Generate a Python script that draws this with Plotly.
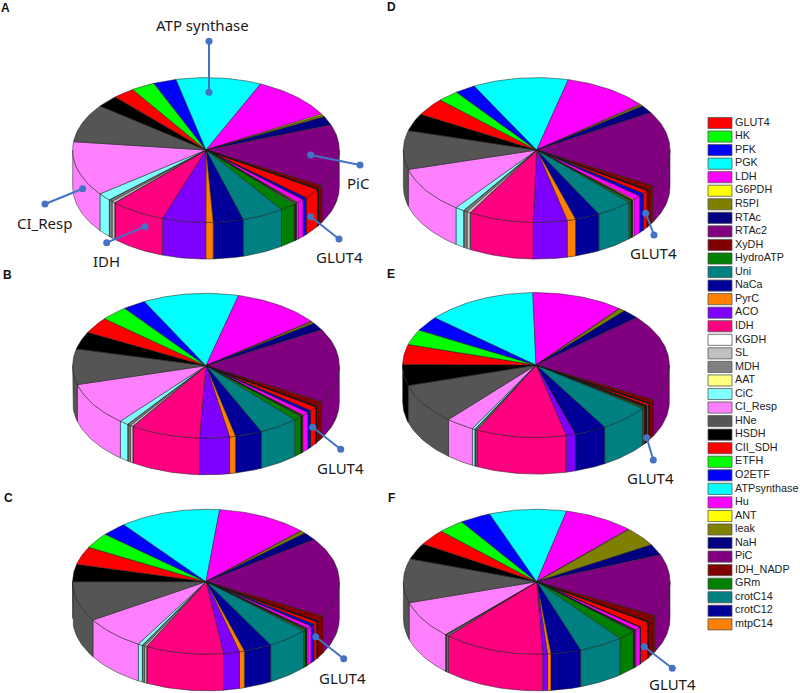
import math
import plotly.graph_objects as go

names = ["GLUT4","HK","PFK","PGK","LDH","G6PDH","R5PI","RTAc","RTAc2","XyDH","HydroATP","Uni","NaCa","PyrC","ACO","IDH","KGDH","SL","MDH","AAT","CiC","CI_Resp","HNe","HSDH","CII_SDH","ETFH","O2ETF","ATPsynthase","Hu","ANT","leak","NaH","PiC","IDH_NADP","GRm","crotC14","crotC12","mtpC14"]
colors = ["#ff0000","#00ff00","#0000ff","#00ffff","#ff00ff","#ffff00","#808000","#000080","#800080","#800000","#008000","#008080","#000099","#ff8000","#8000ff","#ff0080","#ffffff","#c0c0c0","#808080","#ffff80","#80ffff","#ff80ff","#555555","#000000","#ff0000","#00ff00","#0000ff","#00ffff","#ff00ff","#ffff00","#808000","#000080","#800080","#800000","#008000","#008080","#000099","#ff8000"]

panel_a = [8.4,.1,1.7,.1,3.1,.6,.4,.4,.4,.4,6.9,18.3,13.1,3.2,19,24,.1,1.6,1.6,.1,6.2,43.9,30.8,9.7,9.5,10.4,10,37.2,36,1,1.5,7,49.9,3.0,.1,.1,.1,.1]
panel_b = [3.9,.1,1.6,.1,2.8,.5,.3,.3,.3,.3,3.5,17.2,11.7,2.6,13,30.4,.1,1.3,1.3,.1,4,34.9,28.6,14,13,12,10,41.7,38,.4,1.6,6,59.7,4.4,.1,.1,.1,.1]
panel_c = [2.5,.1,1.7,.1,2.3,.5,.3,.3,.3,.3,1.0,18,12.3,2.2,7,33.9,.1,1,1,.1,2,27.5,32,14,14.4,12.6,11,44,39.4,.4,2.2,6.4,64.3,4.7,.1,.1,.1,.1]
panel_d = [3.1,.1,2.2,.1,3.7,.7,.3,.3,.3,.3,1.2,15.9,10.8,3.7,14.7,28.3,.1,1.6,1.6,.1,4,37.1,31.1,14,14,9.4,9,41.6,36.9,.5,1.4,6.3,60.6,4,.1,.1,.1,.1]
panel_e = [1.9,.1,.1,.1,.1,.1,.2,.2,.2,.8,1.0,22.1,13.7,.1,4.1,39.3,.1,.5,.5,.1,1.2,12.6,32.5,17,16,12.4,12,48,40,.4,2.6,7.5,69.7,3.2,.1,.1,.1,.1]
panel_f = [5.1,.1,.2,.1,2.7,.4,.3,.3,.3,.3,7.8,19.4,13.1,1.5,2.1,44.1,.1,.7,.6,.1,.1,30,35.4,13,12.8,11.5,13.6,33.7,30.4,.4,15.6,8.7,49.8,5.6,.1,.1,.1,.1]

panels = [
    dict(tag="A", vals=panel_a, start=-33.0, c=(206,150), letter=(5,8)),
    dict(tag="B", vals=panel_b, start=-34.6, c=(206,365.7), letter=(7,275)),
    dict(tag="C", vals=panel_c, start=-33.6, c=(206,581.7), letter=(8,498)),
    dict(tag="D", vals=panel_d, start=-34.0, c=(536.7,150), letter=(391,7)),
    dict(tag="E", vals=panel_e, start=-32.2, c=(536,365), letter=(391,274)),
    dict(tag="F", vals=panel_f, start=-33.8, c=(536.7,581.7), letter=(391,498)),
]
# callouts per panel: (anchor, end, label, label centre) given in figure pixels
callouts = {
    "A": [((209,92.3),(209,41.3),"ATP synthase",(203,25)),
          ((310.7,155),(360,165),"PiC",(358,183)),
          ((82.7,188.7),(45,204),"CI_Resp",(44.3,222.7)),
          ((145,226.7),(106.7,242.7),"IDH",(106,261)),
          ((310.7,216.7),(339,239),"GLUT4",(339,257))],
    "B": [((312.7,427.3),(340.7,449.3),"GLUT4",(340,467.7))],
    "C": [((315.7,636.7),(343.7,658.7),"GLUT4",(342,677.5))],
    "D": [((645.7,213.3),(654,235),"GLUT4",(653.3,253.3))],
    "E": [((646.7,437.7),(653.3,460),"GLUT4",(650,478.3))],
    "F": [((644.3,646.7),(672.3,668.3),"GLUT4",(672,684))],
}

RX, RY, DEPTH = 133.3, 72.4, 36.7
W, H = 800, 693
HALF_W, TOP, BOT = 170, 135, 115
LABEL_FONT = "Noto Sans"
CALL = "#4472C4"
EDGE = "#1a1a1a"

fig = go.Figure()
layout = dict(width=W, height=H, margin=dict(l=0,r=0,t=0,b=0), autosize=False,
              paper_bgcolor="white", plot_bgcolor="rgba(0,0,0,0)", showlegend=False)
annots = []

def arc(a, b):
    n = max(2, int(abs(b-a)/1.5)+2)
    return [a+(b-a)*i/(n-1) for i in range(n)]

def axis_pair(i, cx, cy):
    sfx = "" if i == 1 else str(i)
    x0 = (cx-HALF_W)/W; x1 = (cx+HALF_W)/W
    y0 = 1-(cy+BOT)/H; y1 = 1-(cy-TOP)/H
    layout["xaxis"+sfx] = dict(domain=[max(x0,0),min(x1,1)], range=[max(cx-HALF_W,0)-cx, min(cx+HALF_W,W)-cx], visible=False, fixedrange=True, anchor="y"+sfx)
    layout["yaxis"+sfx] = dict(domain=[max(y0,0),min(y1,1)], range=[min(cy+BOT,H)-cy, max(cy-TOP,0)-cy], visible=False, fixedrange=True, anchor="x"+sfx)
    return "x"+sfx, "y"+sfx

for i, p in enumerate(panels, start=1):
    cx, cy = p["c"]
    xa, ya = axis_pair(i, cx, cy)
    total = sum(p["vals"])
    edges = [p["start"]]
    for v in p["vals"]:
        edges.append(edges[-1]-v/total*360)  # clockwise
    # side walls: only the front half of the cylinder is visible
    spans = []
    for k in range(len(p["vals"])):
        a, b = edges[k], edges[k+1]
        for shift in (0, 360, -360):
            hi_ = min(a+shift, 0)
            lo_ = max(b+shift, -180)
            if hi_ > lo_:
                spans.append((k, hi_, lo_))
    for k, a, b in spans:
        t = arc(a, b)
        xs = [RX*math.cos(math.radians(q)) for q in t]
        ys = [-RY*math.sin(math.radians(q)) for q in t]
        X = xs + xs[::-1] + [xs[0]]
        Y = ys + [y+DEPTH for y in ys[::-1]] + [ys[0]]
        fig.add_trace(go.Scatter(x=X, y=Y, xaxis=xa, yaxis=ya, mode="lines", fill="toself",
                                 fillcolor=colors[k], line=dict(color=EDGE, width=0.5), hoverinfo="skip"))
    # top surface
    for k in range(len(p["vals"])):
        t = arc(edges[k], edges[k+1])
        X = [0]+[RX*math.cos(math.radians(q)) for q in t]+[0]
        Y = [0]+[-RY*math.sin(math.radians(q)) for q in t]+[0]
        fig.add_trace(go.Scatter(x=X, y=Y, xaxis=xa, yaxis=ya, mode="lines", fill="toself",
                                 fillcolor=colors[k], line=dict(color=EDGE, width=0.5), hoverinfo="skip"))
    for (ax_, ay_), (ex, ey), label, (lx, ly) in callouts[p["tag"]]:
        fig.add_trace(go.Scatter(x=[ax_-cx, ex-cx], y=[ay_-cy, ey-cy], xaxis=xa, yaxis=ya, mode="lines+markers",
                                 line=dict(color=CALL, width=2), marker=dict(color=CALL, size=7), hoverinfo="skip", cliponaxis=False))
        annots.append(dict(x=lx/W, y=1-ly/H, xref="paper", yref="paper", text=label, showarrow=False,
                           font=dict(family=LABEL_FONT, size=15, color="#1a1a1a"), xanchor="center", yanchor="middle"))
    lx, ly = p["letter"]
    annots.append(dict(x=lx/W, y=1-ly/H, xref="paper", yref="paper", text="<b>%s</b>" % p["tag"], showarrow=False,
                       font=dict(family="Liberation Sans", size=12, color="#111111"), xanchor="center", yanchor="middle"))

# legend panel drawn from categories
LEG_X, LEG_W = 700, 100
ROW0, ROWH = 123, 13.55
n = len(names)
li = len(panels)+1
layout["xaxis%d" % li] = dict(domain=[LEG_X/W, 1], range=[LEG_X, LEG_X+LEG_W], visible=False, fixedrange=True, anchor="y%d" % li)
layout["yaxis%d" % li] = dict(domain=[1-(ROW0+ROWH*(n-0.5))/H, 1-(ROW0-ROWH/2)/H], range=[n-0.5, -0.5], visible=False, fixedrange=True, anchor="x%d" % li)
for r, nm in enumerate(names):
    fig.add_trace(go.Scatter(x=[708,732,732,708,708], y=[r-.41,r-.41,r+.41,r+.41,r-.41], xaxis="x%d" % li, yaxis="y%d" % li,
                             mode="lines", fill="toself", fillcolor=colors[r], line=dict(color="#555555", width=0.8), hoverinfo="skip"))
fig.add_trace(go.Scatter(x=[735]*n, y=list(range(n)), text=names, mode="text", textposition="middle right", xaxis="x%d" % li, yaxis="y%d" % li,
                         textfont=dict(family="Liberation Sans", size=10.8, color="#222222"), hoverinfo="skip", cliponaxis=False))

layout["annotations"] = annots
fig.update_layout(**layout)
fig.write_html("out.html", config={"displayModeBar": False}, post_script="document.body.style.margin='0';")
